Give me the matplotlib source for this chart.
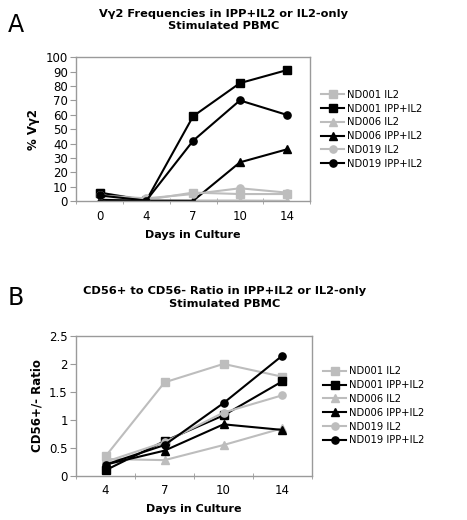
import numpy as np
import matplotlib
matplotlib.use("Agg")
from matplotlib import pyplot as plt

# panel A data: % Vy2 by day
days_a = ["0", "4", "7", "10", "14"]
nd001_il2_a = [6, 1, 6, 5, 5]
nd001_ipp_a = [6, 0.5, 59, 82, 91]
nd006_il2_a = [1, 1, 0.5, 0.5, 0.3]
nd006_ipp_a = [1, 0.3, 0.3, 27, 36]
nd019_il2_a = [4, 2, 5, 9, 6]
nd019_ipp_a = [4, 0.5, 42, 70, 60]

# panel B data: CD56+/- ratio by day
days_b = ["4", "7", "10", "14"]
nd001_il2_b = [0.35, 1.67, 2.0, 1.77]
nd001_ipp_b = [0.1, 0.62, 1.08, 1.69]
nd006_il2_b = [0.3, 0.28, 0.55, 0.85]
nd006_ipp_b = [0.2, 0.45, 0.92, 0.82]
nd019_il2_b = [0.25, 0.6, 1.13, 1.44]
nd019_ipp_b = [0.2, 0.55, 1.3, 2.15]

labels = ["ND001 IL2", "ND001 IPP+IL2", "ND006 IL2",
          "ND006 IPP+IL2", "ND019 IL2", "ND019 IPP+IL2"]
colors = ["#BDBDBD", "black"] * 3
markers = ["s", "s", "^", "^", "o", "o"]

GRAY = "#9A9A9A"


def draw_panel(ax, cats, series, ymax, ystep, ylabel, fmt):
    x = np.arange(len(cats))
    for vals, lab, c, m in zip(series, labels, colors, markers):
        ax.plot(x, vals, color=c, marker=m, markersize=5.2, linewidth=1.5,
                label=lab)
    ax.set_xlim(-0.5, len(cats) - 0.5)
    ax.set_ylim(0, ymax)
    yt = np.arange(0, ymax + ystep / 2, ystep)
    ax.set_yticks(yt)
    ax.set_yticklabels([fmt(v) for v in yt])
    ax.set_xticks(x)
    ax.set_xticklabels(cats)
    ax.set_xticks(np.arange(-0.5, len(cats)), minor=True)
    ax.tick_params(axis="x", which="major", length=0, pad=6)
    ax.tick_params(axis="x", which="minor", length=4, direction="inout",
                   color=GRAY)
    ax.tick_params(axis="y", length=4, direction="out", color=GRAY, pad=2)
    ax.tick_params(labelsize=8.5)
    for s in ax.spines.values():
        s.set_color(GRAY)
        s.set_linewidth(1.0)
    ax.set_ylabel(ylabel, fontsize=8.5, fontweight="bold", labelpad=4)
    ax.set_xlabel("Days in Culture", fontsize=8, fontweight="bold",
                  labelpad=5)
    ax.legend(loc="center left", bbox_to_anchor=(1.03, 0.5), frameon=False,
              fontsize=7.2, handlelength=2.3, handletextpad=0.3,
              labelspacing=0.38, borderaxespad=0)


fig = plt.figure(figsize=(4.67, 5.2), dpi=100)
fig.patch.set_facecolor("white")

ax_a = fig.add_axes([0.163, 0.613, 0.501, 0.277])
draw_panel(ax_a, days_a,
           [nd001_il2_a, nd001_ipp_a, nd006_il2_a,
            nd006_ipp_a, nd019_il2_a, nd019_ipp_a],
           100, 10, "% V\u03b32", lambda v: "%d" % v)

ax_b = fig.add_axes([0.163, 0.085, 0.505, 0.269])
draw_panel(ax_b, days_b,
           [nd001_il2_b, nd001_ipp_b, nd006_il2_b,
            nd006_ipp_b, nd019_il2_b, nd019_ipp_b],
           2.5, 0.5, "CD56+/- Ratio", lambda v: ("%g" % round(v, 1)))

fig.text(0.478, 0.961, "V\u03b32 Frequencies in IPP+IL2 or IL2-only\nStimulated PBMC",
         ha="center", va="center", fontsize=8.2, fontweight="bold",
         linespacing=1.3)
fig.text(0.481, 0.428, "CD56+ to CD56- Ratio in IPP+IL2 or IL2-only\nStimulated PBMC",
         ha="center", va="center", fontsize=8.2, fontweight="bold",
         linespacing=1.3)
fig.text(0.017, 0.952, "A", fontsize=17, ha="left", va="center")
fig.text(0.017, 0.427, "B", fontsize=17, ha="left", va="center")

plt.savefig("out.png", dpi=100)
plt.close()
